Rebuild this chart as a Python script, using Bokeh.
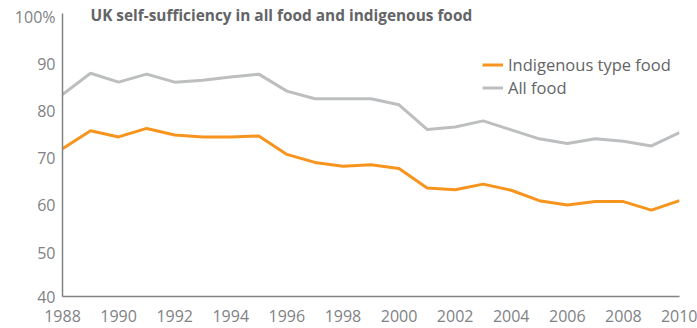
from bokeh.plotting import figure
from bokeh.models import FixedTicker, CustomJSTickFormatter, Label, Legend, LegendItem
from bokeh.embed import file_html
from bokeh.resources import INLINE

years = list(range(1988, 2011))
indigenous = [72.0, 75.8, 74.5, 76.3, 74.9, 74.5, 74.5, 74.7, 70.8, 69.1, 68.3,
              68.6, 67.8, 63.7, 63.3, 64.5, 63.2, 61.0, 60.1, 60.8, 60.8, 59.0, 61.0]
all_food = [83.5, 88.0, 86.1, 87.8, 86.1, 86.5, 87.2, 87.8, 84.2, 82.6, 82.6,
            82.6, 81.3, 76.1, 76.6, 77.9, 76.0, 74.1, 73.1, 74.1, 73.6, 72.6, 75.4]
x_ticks = list(range(1988, 2011, 2))
y_ticks = [40.7, 50, 60, 70, 80, 90, 100]
y_axis_extent = (40.7, 100.6)

title_text = "UK self-sufficiency in all food and indigenous food"
series_names = ["Indigenous type food", "All food"]

ORANGE = "#f7941d"
GREY_LINE = "#bcbec0"
TEXT = "#636466"
AXIS = "#808285"
FONT = "Open Sans"

p = figure(width=697, height=328, output_backend="svg", toolbar_location=None,
           x_range=(1988, 2010), y_range=(40.7, 103.4),
           min_border_left=62, min_border_right=18, min_border_top=0, min_border_bottom=32)
p.outline_line_color = None
p.grid.grid_line_color = None
p.background_fill_color = "white"
p.border_fill_color = "white"

r_ind = p.line(years, indigenous, line_color=ORANGE, line_width=3)
r_all = p.line(years, all_food, line_color=GREY_LINE, line_width=3)

p.xaxis.ticker = FixedTicker(ticks=x_ticks)
p.yaxis.ticker = FixedTicker(ticks=y_ticks)
p.yaxis.bounds = y_axis_extent
p.yaxis.formatter = CustomJSTickFormatter(code="""
if (tick > 99) return "100%";
if (tick < 45) return "40";
return tick.toFixed(0);
""")
for ax in (p.xaxis[0], p.yaxis[0]):
    ax.axis_line_color = AXIS
    ax.axis_line_width = 1.5
    ax.major_tick_line_color = None
    ax.minor_tick_line_color = None
    ax.major_label_text_font = FONT
    ax.major_label_text_font_size = "16px"
    ax.major_label_text_color = AXIS
p.xaxis.major_label_standoff = 7
p.yaxis.major_label_standoff = 1

title = Label(x=28, y=281, x_units="screen", y_units="screen", text=title_text,
              text_font=FONT, text_font_style="bold", text_font_size="15.4px",
              text_color=TEXT, text_baseline="middle")
p.add_layout(title)

legend = Legend(items=[LegendItem(label=series_names[0], renderers=[r_ind]),
                       LegendItem(label=series_names[1], renderers=[r_all])],
                location=(420, 197), padding=0, margin=0, spacing=0,
                glyph_width=21, glyph_height=23, label_height=23, label_standoff=5,
                label_text_font=FONT, label_text_font_size="16.5px", label_text_color=TEXT,
                border_line_color=None, background_fill_alpha=0)
p.add_layout(legend)

open("out.html", "w").write(file_html(p, INLINE))
